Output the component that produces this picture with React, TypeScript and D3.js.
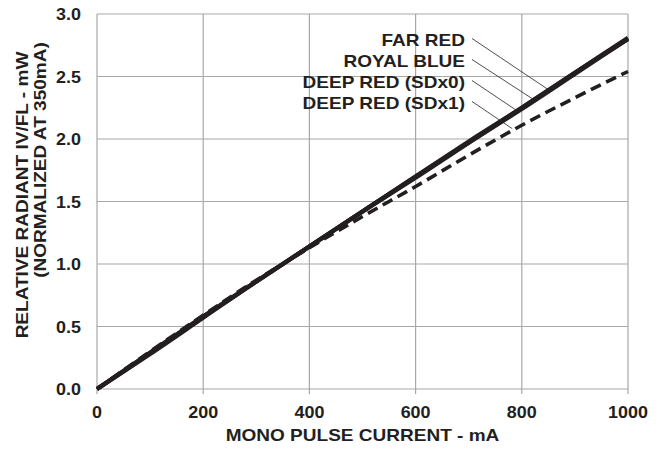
import React, { useEffect, useRef } from "react";
import * as d3 from "d3";

// mono pulse current (mA)
const current = [0, 100, 200, 300, 350, 400, 500, 600, 700, 800, 900, 1000];
// relative radiant output, normalized at 350mA
const farRed = [0, 0.29, 0.58, 0.86, 1.0, 1.14, 1.42, 1.7, 1.98, 2.25, 2.53, 2.81];
const royalBlue = [0, 0.28, 0.57, 0.86, 1.0, 1.14, 1.42, 1.69, 1.97, 2.25, 2.53, 2.8];
const deepRedSDx0 = [0, 0.29, 0.58, 0.86, 1.0, 1.14, 1.42, 1.7, 1.97, 2.24, 2.52, 2.8];
const deepRedSDx1 = [0, 0.3, 0.59, 0.87, 1.0, 1.13, 1.38, 1.62, 1.87, 2.11, 2.33, 2.54];

const seriesNames = ["FAR RED", "ROYAL BLUE", "DEEP RED (SDx0)", "DEEP RED (SDx1)"];
const seriesDashed = [false, false, false, true];
// where each label's leader line meets its curve (mA)
const leaderCurrent = [848, 820, 790, 782];

const xTicks = [0, 200, 400, 600, 800, 1000];
const yTicks = [0, 0.5, 1.0, 1.5, 2.0, 2.5, 3.0];

const App: React.FC = () => {
  const svgRef = useRef<SVGSVGElement | null>(null);

  useEffect(() => {
    if (!svgRef.current) return;
    const svg = d3.select(svgRef.current);
    svg.selectAll("*").remove();

    const left = 97, right = 628, top = 14, bottom = 389;
    const font = "Arial, 'Liberation Sans', sans-serif";
    const grid = "#a8a8a8";
    const ink = "#231f20";
    const sx = 1.12; // the original lettering is a little wider than Arial

    const x = d3.scaleLinear().domain([0, 1000]).range([left, right]);
    const y = d3.scaleLinear().domain([0, 3]).range([bottom, top]);

    const all = [farRed, royalBlue, deepRedSDx0, deepRedSDx1];

    const label = (g: d3.Selection<any, any, any, any>, tx: number, ty: number, size: number, anchor: string, txt: string, rot = 0) =>
      g.append("text")
        .attr("transform", `translate(${tx},${ty}) rotate(${rot}) scale(${sx},1)`)
        .attr("text-anchor", anchor)
        .style("font-family", font)
        .style("font-size", `${size}px`)
        .style("font-weight", "bold")
        .attr("fill", ink)
        .text(txt);

    // grid
    svg.append("g")
      .selectAll("line")
      .data(xTicks)
      .enter()
      .append("line")
      .attr("x1", d => x(d))
      .attr("x2", d => x(d))
      .attr("y1", top)
      .attr("y2", bottom + 5)
      .attr("stroke", grid)
      .attr("stroke-width", 1.2);

    svg.append("g")
      .selectAll("line")
      .data(yTicks)
      .enter()
      .append("line")
      .attr("x1", left)
      .attr("x2", right)
      .attr("y1", d => y(d))
      .attr("y2", d => y(d))
      .attr("stroke", grid)
      .attr("stroke-width", 1.2);

    // tick labels
    xTicks.forEach(d => label(svg, x(d), 418, 16, "middle", String(d)));
    yTicks.forEach(d => label(svg, 81, y(d) + 6, 16, "end", d.toFixed(1)));

    // axis titles
    label(svg, (left + right) / 2, 441, 17, "middle", "MONO PULSE CURRENT - mA");
    label(svg, 28, 195, 17, "middle", "RELATIVE RADIANT IV/FL - mW", -90);
    label(svg, 46, 160, 17, "middle", "(NORMALIZED AT 350mA)", -90);

    // curves
    const line = d3.line<number>()
      .x((_, i) => x(current[i]))
      .y(d => y(d))
      .curve(d3.curveMonotoneX);

    all.forEach((vals, i) => {
      svg.append("path")
        .datum(vals)
        .attr("d", line)
        .attr("fill", "none")
        .attr("stroke", ink)
        .attr("stroke-width", seriesDashed[i] ? 3.6 : 4.2)
        .attr("stroke-dasharray", seriesDashed[i] ? "11,6" : null);
    });

    // labels with leader lines
    const interp = (vals: number[], c: number) => {
      const k = d3.bisectRight(current, c) - 1;
      const t = (c - current[k]) / (current[k + 1] - current[k]);
      return vals[k] + t * (vals[k + 1] - vals[k]);
    };

    seriesNames.forEach((name, i) => {
      const baseY = 45.5 + i * 21;
      label(svg, 465, baseY, 17, "end", name);
      const c = leaderCurrent[i];
      svg.append("line")
        .attr("x1", 472)
        .attr("y1", baseY - 7)
        .attr("x2", x(c))
        .attr("y2", y(interp(all[i], c)) - 2)
        .attr("stroke", ink)
        .attr("stroke-width", 0.8);
    });
  }, []);

  return <svg ref={svgRef} width={663} height={450} style={{ display: "block", position: "absolute", left: 0, top: 0 }} />;
};

export default App;
